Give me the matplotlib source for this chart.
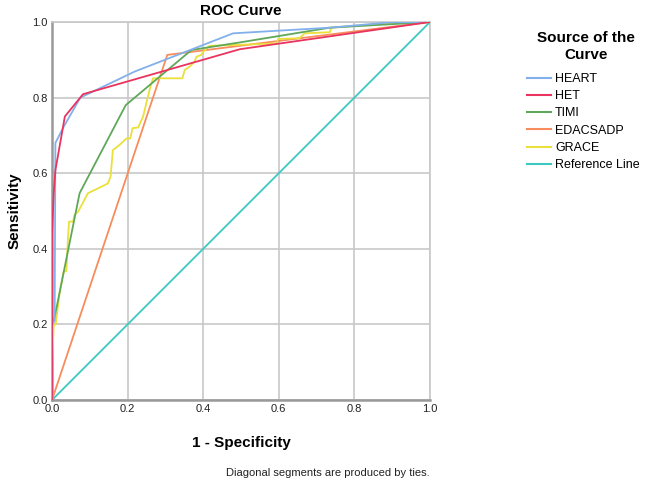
import matplotlib
matplotlib.use("Agg")
import matplotlib.pyplot as plt
from matplotlib.lines import Line2D

plt.rcParams['font.family'] = ['Liberation Sans', 'DejaVu Sans']

# Data (1 - specificity, sensitivity)
heart_x = [0.0, 0.0, 0.007, 0.009, 0.031, 0.075, 0.219, 0.479, 0.735, 0.893, 1.0]
heart_y = [0.0, 0.2, 0.21, 0.68, 0.723, 0.80, 0.869, 0.970, 0.985, 0.999, 1.0]

het_x = [0.0, 0.0, 0.0045, 0.009, 0.034, 0.082, 0.497, 1.0]
het_y = [0.0, 0.44, 0.547, 0.608, 0.75, 0.809, 0.928, 1.0]

timi_x = [0.0, 0.0, 0.0045, 0.073, 0.195, 0.369, 0.497, 0.735, 1.0]
timi_y = [0.0, 0.2, 0.207, 0.547, 0.78, 0.926, 0.946, 0.985, 1.0]

edacs_x = [0.0, 0.305, 1.0]
edacs_y = [0.0, 0.913, 1.0]

grace_x = [0.0, 0.0, 0.0045, 0.0098, 0.02, 0.031, 0.038, 0.042, 0.045, 0.056,
           0.059, 0.069, 0.095, 0.122, 0.148, 0.155, 0.161, 0.179, 0.197, 0.207,
           0.213, 0.228, 0.241, 0.258, 0.267, 0.345, 0.351, 0.364, 0.377, 0.382,
           0.395, 0.40, 0.417, 0.594, 0.598, 0.655, 0.668, 0.735, 0.739, 0.89, 1.0]
grace_y = [0.0, 0.088, 0.198, 0.20, 0.282, 0.34, 0.341, 0.423, 0.472, 0.472,
           0.489, 0.498, 0.547, 0.56, 0.573, 0.591, 0.661, 0.675, 0.692, 0.692,
           0.719, 0.721, 0.75, 0.82, 0.851, 0.851, 0.873, 0.882, 0.895, 0.908,
           0.913, 0.921, 0.937, 0.943, 0.955, 0.957, 0.970, 0.973, 0.985, 0.997, 1.0]

ref_x = [0.0, 1.0]
ref_y = [0.0, 1.0]

labels = ["HEART", "HET", "TIMI", "EDACSADP", "GRACE", "Reference Line"]
colors = ["#82B0EC", "#E8345E", "#5FA85A", "#F88C5C", "#EAE03C", "#3EC8C2"]

fig = plt.figure(figsize=(6.46, 4.84), dpi=100)
ax = fig.add_axes([52/646, 84/484, 378/646, 378/484])

series = [(heart_x, heart_y), (het_x, het_y), (timi_x, timi_y),
          (edacs_x, edacs_y), (grace_x, grace_y), (ref_x, ref_y)]
order = [5, 3, 4, 2, 0, 1]
for i in order:
    xs, ys = series[i]
    ax.plot(xs, ys, color=colors[i], lw=1.3, zorder=3 + order.index(i) * 0.1)

ax.set_xlim(0, 1)
ax.set_ylim(0, 1)
ticks = [0.0, 0.2, 0.4, 0.6, 0.8, 1.0]
ax.set_xticks(ticks)
ax.set_yticks(ticks)
ax.set_xticklabels([f"{t:.1f}" for t in ticks], fontsize=8)
ax.set_yticklabels([f"{t:.1f}" for t in ticks], fontsize=8)
ax.tick_params(length=0, pad=3, colors="#222222")
ax.grid(True, color="#C8C8C8", lw=1.2, zorder=0)
ax.set_axisbelow(True)
for s in ["top", "right"]:
    ax.spines[s].set_color("#C8C8C8")
    ax.spines[s].set_linewidth(1.2)
for s in ["left", "bottom"]:
    ax.spines[s].set_color("#999999")
    ax.spines[s].set_linewidth(1.8)

ax.set_title("ROC Curve", fontsize=11, fontweight="bold", pad=5)
ax.set_xlabel("1 - Specificity", fontsize=11, fontweight="bold", labelpad=16)
ax.set_ylabel("Sensitivity", fontsize=11, fontweight="bold", labelpad=8)

fig.text(430/646, 1 - 473/484, "Diagonal segments are produced by ties.",
         ha="right", va="center", fontsize=8, color="#222222")

# Legend title
fig.text(586/646, 1 - 38/484, "Source of the", ha="center", va="center",
         fontsize=11, fontweight="bold")
fig.text(586/646, 1 - 55/484, "Curve", ha="center", va="center",
         fontsize=11, fontweight="bold")

handles = [Line2D([0], [0], color=c, lw=1.5) for c in colors]
leg = fig.legend(handles, labels, loc="upper left", bbox_to_anchor=(527/646, 1 - 73/484),
                 frameon=False, fontsize=9, borderpad=0, borderaxespad=0,
                 handlelength=1.9, handletextpad=0.35, labelspacing=0.42)

fig.savefig("out.png", dpi=100)
